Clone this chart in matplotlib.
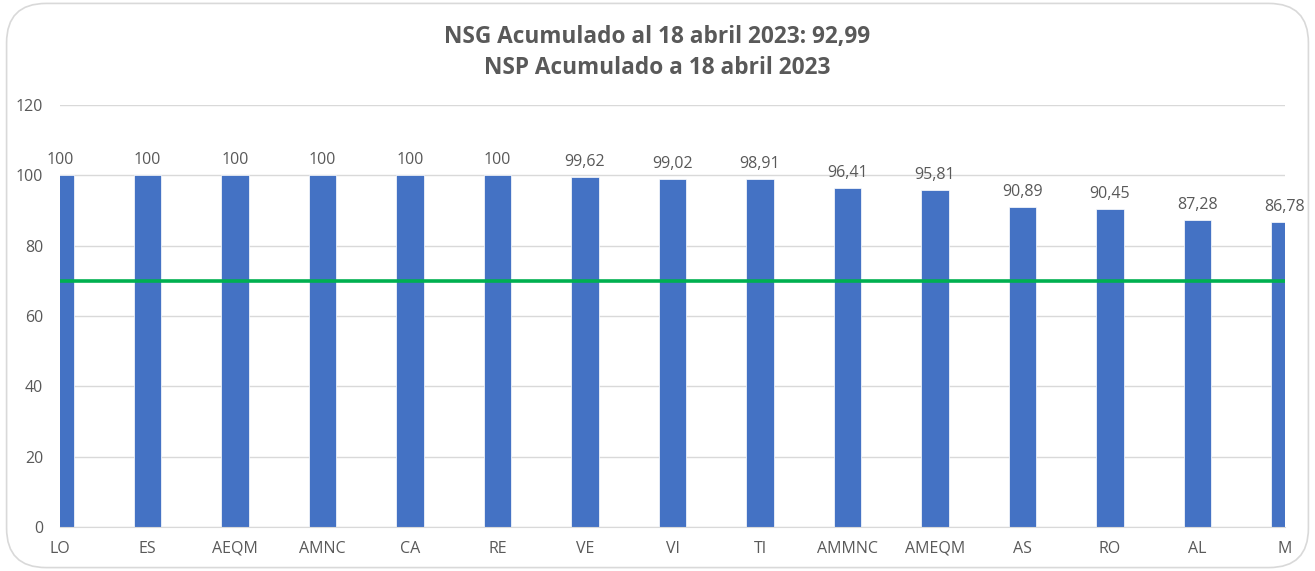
import matplotlib.pyplot as plt
from matplotlib.patches import FancyBboxPatch
import numpy as np

categorias = ["LO", "ES", "AEQM", "AMNC", "CA", "RE", "VE", "VI", "TI",
              "AMMNC", "AMEQM", "AS", "RO", "AL", "M"]
valores = [100, 100, 100, 100, 100, 100, 99.62, 99.02, 98.91,
           96.41, 95.81, 90.89, 90.45, 87.28, 86.78]
meta = 70
titulo = "NSG Acumulado al 18 abril 2023: 92,99\nNSP Acumulado a 18 abril 2023"

gris = "#595959"
plt.rcParams['font.family'] = ['Open Sans', 'DejaVu Sans']

fig = plt.figure(figsize=(13.15, 5.71), dpi=100)
borde = FancyBboxPatch((0.005, 0.006), 0.99, 0.988,
                       boxstyle="round,pad=0,rounding_size=0.03",
                       transform=fig.transFigure, facecolor="none",
                       edgecolor="#D9D9D9", linewidth=1.2, mutation_aspect=2.3,
                       zorder=-1)
fig.patches.append(borde)

ax = fig.add_axes([0.0456, 0.0771, 0.9316, 0.739])
x = np.arange(len(categorias))
ax.bar(x, valores, width=0.31, color="#4472C4", edgecolor="white",
       linewidth=0.5, zorder=2)
ax.axhline(meta, color="#00B050", linewidth=2.6, zorder=3)

for xi, v in zip(x, valores):
    txt = f"{v:g}".replace(".", ",")
    if v != int(v):
        txt = f"{v:.2f}".replace(".", ",")
    ax.annotate(txt, (xi, v), xytext=(0, 5), textcoords="offset points",
                ha="center", va="bottom", fontsize=11.5, color=gris,
                annotation_clip=False)

ax.set_xlim(0, len(categorias) - 1)
ax.set_ylim(0, 120)
ax.set_yticks(range(0, 121, 20))
ax.set_xticks(x)
ax.set_xticklabels(categorias)
ax.yaxis.grid(True, color="#D9D9D9", linewidth=1)
ax.set_axisbelow(True)
for s in ax.spines.values():
    s.set_visible(False)
ax.spines['bottom'].set_visible(True)
ax.spines['bottom'].set_color("#D9D9D9")
ax.tick_params(length=0, labelsize=11.5, colors=gris)
ax.tick_params(axis='x', pad=10)
ax.tick_params(axis='y', pad=12)
ax.set_facecolor("none")

fig.text(0.5, 0.957, titulo, ha="center", va="top", fontsize=16.3,
         fontweight="bold", color=gris, linespacing=1.42)

fig.savefig("out.png", dpi=100)
